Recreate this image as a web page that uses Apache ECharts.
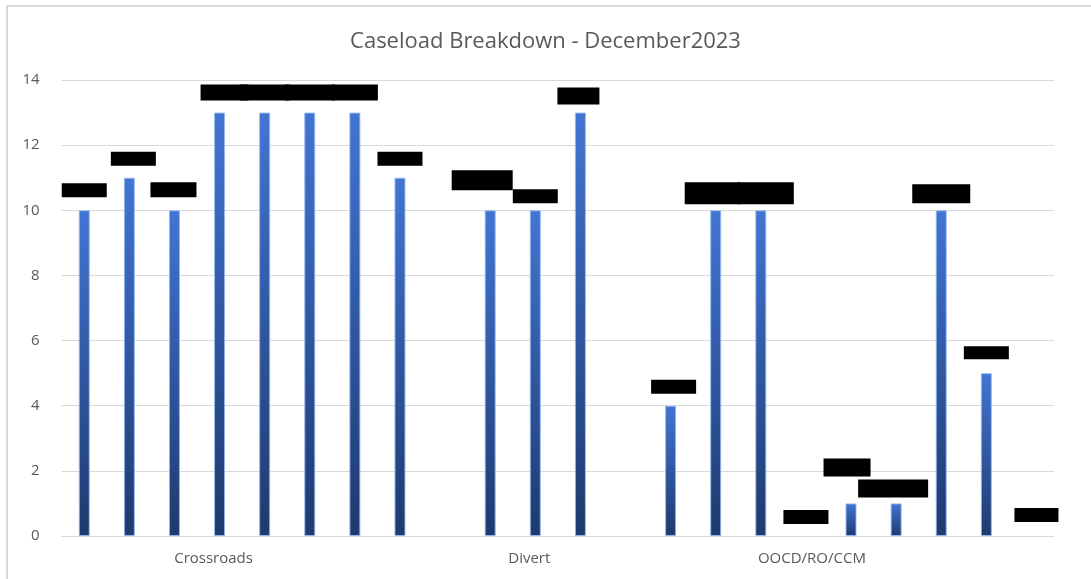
<!DOCTYPE html>
<html>
<head>
<meta charset="utf-8">
<script src="https://cdn.jsdelivr.net/npm/echarts@6/dist/echarts.min.js"></script>
<style>
html,body{margin:0;padding:0;background:#fff;}
#c{width:1091px;height:579px;}
</style>
</head>
<body>
<div id="c"></div>
<script>
// ---- data ----
const titleText = 'Caseload Breakdown - December2023';
// one slot per bar; null = empty slot separating groups
const values = [10, 11, 10, 13, 13, 13, 13, 11, null, 10, 10, 13, null, 4, 10, 10, 0, 1, 1, 10, 5, 0];
const groups = ['Crossroads', 'Divert', 'OOCD/RO/CCM'];
// slot index at which each group name is shown
const groupSlots = [3, 10, 16];
const yTicks = [0, 2, 4, 6, 8, 10, 12, 14];

// ---- style: redacted data-label boxes [width, height, dx, gap above bar] ----
const labelBoxes = [
  [45,14,0,13],[45,14,4,12],[46,15,-1,13],[48,16,5,12],[50,16,0,12],[50,16,0,12],[46,16,0,12],[45,14,0,12],
  null,[61,20,-8,20],[45,14,0,7],[42,17,-2,8],
  null,[45,14,3,12],[56,22,-3,6],[56,22,5,6],[45,14,0,12],[47,18,-4,27],[70,18,-3,6],[58,19,0,7],[45,13,0,14],[44,14,5,14]
];
const groupShift = [-6, -3, 6];

const cats = values.map((v, i) => 'slot' + i);
const groupCats = values.map((v, i) => {
  const g = groupSlots.indexOf(i);
  return g >= 0 ? groups[g] : '';
});

const FONT = "'Open Sans', 'Noto Sans', sans-serif";
const TXT = '#595959';

const seriesData = values.map((v, i) => {
  const b = labelBoxes[i];
  if (v === null) return { value: null, label: { show: false } };
  return {
    value: v,
    itemStyle: v === 0 ? { borderWidth: 0, borderColor: 'rgba(0,0,0,0)' } : undefined,
    label: {
      show: true,
      position: 'top',
      distance: 0,
      formatter: ' ',
      width: b[0],
      height: b[1],
      backgroundColor: '#000',
      borderRadius: 0,
      offset: [b[2], -b[3]]
    }
  };
});

const chart = echarts.init(document.getElementById('c'), null, { renderer: 'canvas' });
chart.setOption({
  animation: false,
  backgroundColor: '#fff',
  title: {
    text: titleText,
    left: 'center',
    top: 26,
    textStyle: { fontFamily: FONT, fontSize: 22, fontWeight: 'normal', color: TXT }
  },
  graphic: [{
    type: 'rect',
    shape: { x: 7, y: 6, width: 1200, height: 700 },
    style: { fill: 'none', stroke: '#d9d9d9', lineWidth: 2 },
    silent: true,
    z: -10
  }],
  grid: { left: 61.7, right: 37, top: 80, bottom: 43 },
  xAxis: [{
    type: 'category',
    data: cats,
    boundaryGap: true,
    axisLine: { show: true, lineStyle: { color: '#d9d9d9', width: 1 } },
    axisTick: { show: false },
    axisLabel: { show: false },
    splitLine: { show: false }
  }, {
    type: 'category',
    data: groupCats,
    position: 'bottom',
    boundaryGap: true,
    axisLine: { show: false },
    axisTick: { show: false },
    axisLabel: {
      show: true,
      interval: 0,
      margin: 15,
      fontFamily: FONT,
      fontSize: 15,
      color: TXT,
      formatter: function (val) {
        const g = groups.indexOf(val);
        if (g < 0) return '';
        const s = groupShift[g];
        return s < 0 ? '{l|' + val + '}' : '{r|' + val + '}';
      },
      rich: {
        l: { fontFamily: FONT, fontSize: 15, color: TXT, padding: [0, 12, 0, 0] },
        r: { fontFamily: FONT, fontSize: 15, color: TXT, padding: [0, 0, 0, 12] }
      }
    }
  }],
  yAxis: {
    type: 'value',
    min: yTicks[0],
    max: yTicks[yTicks.length - 1],
    interval: yTicks[1] - yTicks[0],
    axisLine: { show: false },
    axisTick: { show: false },
    axisLabel: { margin: 22, fontFamily: FONT, fontSize: 15, color: TXT },
    splitLine: { lineStyle: { color: '#d9d9d9', width: 1 } }
  },
  series: [{
    type: 'bar',
    xAxisIndex: 0,
    data: seriesData,
    barWidth: 11,
    itemStyle: {
      color: new echarts.graphic.LinearGradient(0, 0, 0, 1, [
        { offset: 0, color: '#4275d3' },
        { offset: 1, color: '#1e3a6e' }
      ]),
      borderColor: 'rgba(150,185,240,0.9)',
      borderWidth: 1
    }
  }]
});
</script>
</body>
</html>
